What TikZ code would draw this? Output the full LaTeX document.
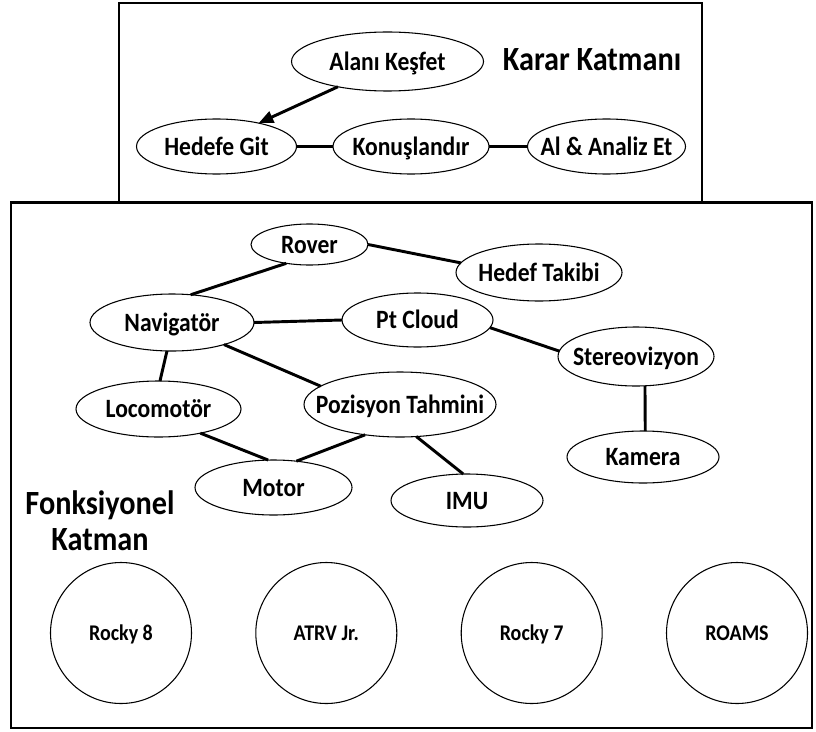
\documentclass[tikz,border=0pt]{standalone}
\usepackage{fontspec}
\setmainfont{Carlito}
\usetikzlibrary{shapes.geometric,arrows.meta}
\newcommand{\ztxt}[1]{\makebox[0pt]{\scalebox{1}[1.12]{#1}}}
\begin{document}
\begin{tikzpicture}[x=0.75pt,y=-0.75pt,
  ell/.style 2 args={ellipse,draw,line width=0.8pt,inner sep=0pt,outer sep=0pt,
     minimum width=#1,minimum height=#2,text height=12.8pt,text depth=0pt,
     font=\fontsize{17.7}{20}\selectfont\bfseries},
  circ/.style={ellipse,draw,line width=0.8pt,inner sep=0pt,outer sep=0pt,
     minimum width=105.75pt,minimum height=105.75pt,text height=10.8pt,text depth=0pt,
     font=\fontsize{15}{18}\selectfont\bfseries},
  conn/.style={line width=2.2pt},
  frame/.style={line width=2.2pt},
  title/.style={font=\fontsize{22.7}{27}\selectfont\bfseries}]
\useasboundingbox (0,0) rectangle (816,731);

% frames
\draw[frame] (119,202.5) -- (119,3) -- (702,3) -- (702,202.5);
\draw[frame] (11,202.5) rectangle (812,728);

% decision layer
\node[ell={144pt}{44.25pt}] (ak) at (387.5,61.5) {\ztxt{Alanı Keşfet}};
\node[ell={120pt}{41.25pt}] (hg) at (216.5,146.5) {\ztxt{Hedefe Git}};
\node[ell={117pt}{41.25pt}] (kon) at (411,146.5) {\ztxt{Konuşlandır}};
\node[ell={118.5pt}{41.25pt}] (al) at (606.5,146.5) {\ztxt{Al \& Analiz Et}};
\node[title,anchor=base] (kk) at (592,71) {\scalebox{1}[1.12]{Karar Katmanı}};

\draw[conn,-{Triangle[length=11pt,width=9pt]}] (ak.207.6) -- (hg.29.2);
\draw[conn] (hg.east) -- (kon.west);
\draw[conn] (kon.east) -- (al.west);

% functional layer
\node[ell={87.75pt}{30.75pt}] (rover) at (309.5,244.5) {\ztxt{Rover}};
\node[ell={124.5pt}{42.75pt}] (ht) at (539,272.5) {\ztxt{Hedef Takibi}};
\node[ell={123pt}{42.75pt}] (nav) at (172,322.5) {\ztxt{Navigatör}};
\node[ell={113.25pt}{40.5pt}] (pt) at (417.5,320) {\ztxt{Pt Cloud}};
\node[ell={117pt}{44.25pt}] (st) at (636,356.5) {\ztxt{Stereovizyon}};
\node[ell={123.75pt}{42pt}] (loco) at (158.5,409) {\ztxt{Locomotör}};
\node[ell={144pt}{48.75pt}] (poz) at (400,404.5) {\ztxt{Pozisyon Tahmini}};
\node[ell={114pt}{39pt}] (kam) at (643,457) {\ztxt{Kamera}};
\node[ell={117.75pt}{41.25pt}] (motor) at (273.5,487.5) {\ztxt{Motor}};
\node[ell={114pt}{39.75pt}] (imu) at (467,500.5) {\ztxt{IMU}};

\draw[conn] (rover.219.4) -- (nav.56.8);
\draw[conn] (rover.0) -- (ht.173.1);
\draw[conn] (nav.east) -- (pt.west);
\draw[conn] (pt.354.6) -- (st.176);
\draw[conn] (nav.337.5) -- (poz.167);
\draw[conn] (nav.260) -- (loco.87);
\draw[conn] (loco.330) -- (motor.101.3);
\draw[conn] (poz.221) -- (motor.49.7);
\draw[conn] (poz.297.6) -- (imu.98.6);
\draw[conn] (st.287) -- (kam.85.6);

\node[title,align=center] (fk) at (100,521) {\scalebox{1}[1.12]{Fonksiyonel}\\\scalebox{1}[1.12]{Katman}};

\node[circ] (r8) at (121,633) {\ztxt{Rocky 8}};
\node[circ] (atrv) at (326.3,633) {\ztxt{ATRV Jr.}};
\node[circ] (r7) at (531.7,633) {\ztxt{Rocky 7}};
\node[circ] (roams) at (737,633) {\ztxt{ROAMS}};
\end{tikzpicture}
\end{document}
